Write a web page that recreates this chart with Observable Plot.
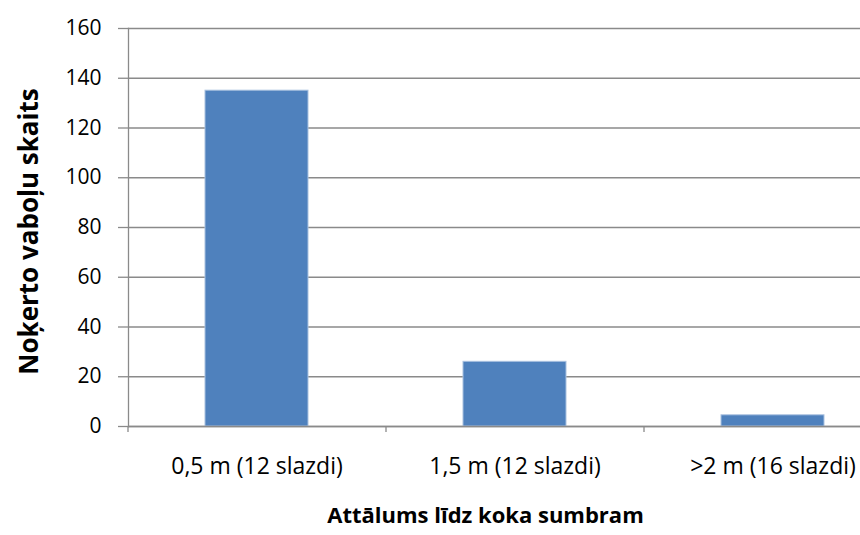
<!DOCTYPE html>
<html><head><meta charset="utf-8">
<script src="https://cdn.jsdelivr.net/npm/d3@7"></script>
<script src="https://cdn.jsdelivr.net/npm/@observablehq/plot@0.6"></script>
<style>body{margin:0;overflow:hidden;background:#fff}</style>
</head><body><div id="chart"></div>
<script>
const categories = ["0,5 m (12 slazdi)", "1,5 m (12 slazdi)", ">2 m (16 slazdi)"];
const values = [135, 26, 4.5];
const yTicks = [0, 20, 40, 60, 80, 100, 120, 140, 160];
const xTitle = "Attālums līdz koka sumbram";
const yTitle = "Noķerto vaboļu skaits";

const data = categories.map((c, i) => ({category: c, value: values[i]}));
const xRange = [128, 902];
const step = (xRange[1] - xRange[0]) / categories.length;
const gridColor = "#8a8a8a";
const font = "Open Sans";

const chart = Plot.plot({
  width: 860,
  height: 535,
  marginTop: 28,
  marginBottom: 109,
  marginLeft: 128,
  marginRight: 0,
  style: {fontFamily: font, fontSize: "20px", color: "#000", background: "#fff", overflow: "visible"},
  x: {domain: categories, range: xRange, paddingInner: 0.6, paddingOuter: 0.3, align: 0.5, label: null},
  y: {domain: [0, 160], label: null},
  marks: [
    Plot.ruleY(yTicks, {stroke: gridColor, strokeWidth: 1.3}),
    Plot.frame({anchor: "left", stroke: gridColor, strokeWidth: 1.3}),
    Plot.barY(data, {x: "category", y: "value", fill: "#4F81BD", stroke: "#A9C1E0", strokeWidth: 1}),
    Plot.axisY(yTicks, {tickSize: 10, tickPadding: 17, stroke: gridColor, strokeWidth: 1.3, fontSize: 21, fill: "#000"}),
    Plot.axisX({tickSize: 0, tickPadding: 31, fontSize: 23, fill: "#000"}),
    Plot.ruleX(categories, {x: d => d, dx: -step / 2, y1: 0, y2: 0, insetBottom: -6, stroke: gridColor, strokeWidth: 1.3}),
    Plot.ruleY([0], {stroke: gridColor, strokeWidth: 1.3}),
    Plot.text([xTitle], {frameAnchor: "bottom", dy: 96, dx: -9, fontWeight: "bold", fontSize: 22, fill: "#000"}),
    Plot.text([yTitle], {frameAnchor: "left", textAnchor: "middle", dx: -99, dy: 4, rotate: -90, fontWeight: "bold", fontSize: 26, fill: "#000"})
  ]
});
document.getElementById("chart").appendChild(chart);
</script>
</body></html>
